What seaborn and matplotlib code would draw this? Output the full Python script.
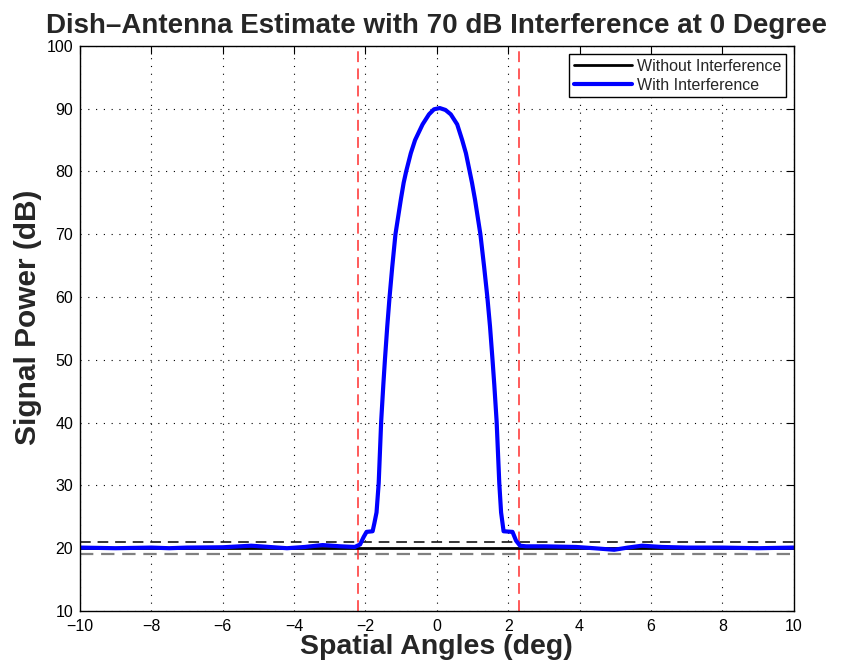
import numpy as np
import pandas as pd
import matplotlib
matplotlib.use("Agg")
import matplotlib.pyplot as plt
import seaborn as sns

# ---- data ----
angles_with = [-10, -9, -8, -7.5, -7, -6, -5.2, -4.2, -3.7, -3.2, -2.7, -2.3, -2.15, -2.05,
               -1.97, -1.8, -1.75, -1.69, -1.63, -1.56, -1.50, -1.455, -1.39, -1.325, -1.25,
               -1.16, -1.01, -0.93, -0.86, -0.73, -0.61, -0.40, -0.22, -0.08, 0.08, 0.24,
               0.39, 0.57, 0.71, 0.815, 0.92, 0.985, 1.07, 1.22, 1.325, 1.415, 1.49, 1.56, 1.61,
               1.675, 1.75, 1.8, 1.87, 2.12, 2.22, 2.33, 2.5, 3.0, 3.9, 4.4, 4.97, 5.35, 5.75,
               6.3, 7, 8, 9, 10]
power_with = [20.1, 20.0, 20.1, 20.0, 20.1, 20.15, 20.4, 20.0, 20.2, 20.5, 20.3, 20.2, 20.6, 21.8,
              22.6, 22.7, 24.0, 25.7, 30.3, 40.2, 46.0, 50.0, 55.3, 60.0, 64.8,
              70.0, 75.5, 78.2, 80.0, 82.9, 85.0, 87.5, 89.1, 89.9, 90.1, 89.8,
              89.1, 87.5, 85.0, 82.9, 80.0, 78.2, 75.5, 70.0, 64.8, 60.0, 55.3, 50.0, 46.0,
              40.2, 30.3, 25.7, 22.7, 22.6, 21.2, 20.4, 20.3, 20.3, 20.2, 20.0, 19.75, 20.1, 20.4,
              20.2, 20.1, 20.1, 20.0, 20.1]
angles_without = [-10, 10]
power_without = [20, 20]
upper_bound = 21
lower_bound = 19
lobe_edges = [-2.2, 2.3]
x_ticks = [-10, -8, -6, -4, -2, 0, 2, 4, 6, 8, 10]
y_ticks = [10, 20, 30, 40, 50, 60, 70, 80, 90, 100]

df_with = pd.DataFrame({"angle": angles_with, "power": power_with})
df_without = pd.DataFrame({"angle": angles_without, "power": power_without})

sns.set_style("white")
plt.rcParams["font.family"] = ["Liberation Sans", "DejaVu Sans"]

fig = plt.figure(figsize=(8.48, 6.65), dpi=100)
ax = fig.add_axes([0.0943, 0.0812, 0.8417, 0.8498])

sns.lineplot(data=df_without, x="angle", y="power", color="black", linewidth=2.0,
             label="Without Interference", ax=ax, estimator=None, sort=False)
sns.lineplot(data=df_with, x="angle", y="power", color="#0000ff", linewidth=3.0,
             label="With Interference", ax=ax, estimator=None, sort=False)

ax.axhline(upper_bound, color="black", linestyle=(0, (7, 4.5)), linewidth=1.1, zorder=1)
ax.axhline(lower_bound, color="#808080", linestyle=(0, (6, 3.5)), linewidth=1.6, zorder=1)
for xe in lobe_edges:
    ax.axvline(xe, color="#ff4d4d", linestyle=(0, (6, 3.5)), linewidth=1.3, zorder=1)

ax.set_xlim(-10, 10)
ax.set_ylim(10, 100)
ax.set_xticks(x_ticks)
ax.set_yticks(y_ticks)
ax.grid(True, linestyle=(0, (1, 6)), color="black", linewidth=0.8)
ax.tick_params(direction="in", top=True, right=True, length=6, labelsize=11.5, colors="black")
ax.tick_params(axis="x", pad=6)
ax.tick_params(axis="y", pad=5)
for s in ax.spines.values():
    s.set_color("black")
    s.set_linewidth(1.0)

ax.set_title("Dish\u2013Antenna Estimate with 70 dB Interference at 0 Degree",
             fontsize=20, fontweight="bold", pad=9)
ax.set_xlabel("Spatial Angles (deg)", fontsize=20.5, fontweight="bold", labelpad=0)
ax.set_ylabel("Signal Power (dB)", fontsize=21.5, fontweight="bold", labelpad=3)
ax.yaxis.label.set_y(0.52)

leg = ax.legend(loc="upper right", fontsize=11.5, frameon=True, fancybox=False,
                edgecolor="black", handlelength=3.6, borderaxespad=0.5,
                borderpad=0.3, labelspacing=0.25, handletextpad=0.3)
leg.get_frame().set_linewidth(1.0)
leg.get_frame().set_alpha(1)

fig.savefig("out.png", dpi=100)
